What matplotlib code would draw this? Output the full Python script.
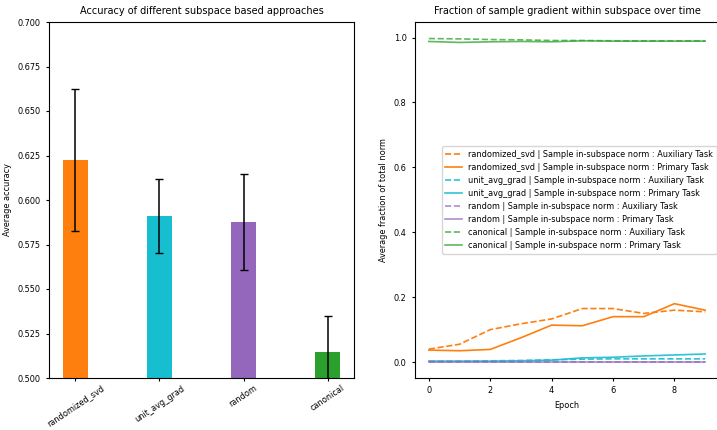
import matplotlib
matplotlib.use("Agg")
import matplotlib.pyplot as plt
import numpy as np

methods = ["randomized_svd", "unit_avg_grad", "random", "canonical"]
bar_colors = ["tab:orange", "tab:cyan", "tab:purple", "tab:green"]
acc_mean = [0.6225, 0.591, 0.5875, 0.5145]
acc_err = [0.040, 0.021, 0.027, 0.0205]

epochs = list(range(10))
rsvd_aux = [0.040, 0.055, 0.100, 0.118, 0.133, 0.165, 0.165, 0.150, 0.160, 0.155]
rsvd_pri = [0.037, 0.035, 0.039, 0.075, 0.114, 0.112, 0.140, 0.140, 0.180, 0.160]
uag_aux = [0.003, 0.003, 0.004, 0.005, 0.007, 0.009, 0.010, 0.010, 0.010, 0.010]
uag_pri = [0.003, 0.003, 0.003, 0.004, 0.006, 0.013, 0.015, 0.019, 0.022, 0.025]
rand_aux = [0.001, 0.001, 0.001, 0.001, 0.001, 0.001, 0.001, 0.001, 0.001, 0.001]
rand_pri = [0.000, 0.000, 0.000, 0.000, 0.000, 0.000, 0.000, 0.000, 0.000, 0.000]
can_aux = [0.997, 0.996, 0.994, 0.993, 0.991, 0.991, 0.990, 0.990, 0.990, 0.990]
can_pri = [0.988, 0.985, 0.987, 0.988, 0.987, 0.990, 0.989, 0.989, 0.989, 0.989]

series = [
    ("randomized_svd", rsvd_aux, rsvd_pri, "tab:orange", 1.0),
    ("unit_avg_grad", uag_aux, uag_pri, "tab:cyan", 0.9),
    ("random", rand_aux, rand_pri, "tab:purple", 0.75),
    ("canonical", can_aux, can_pri, "tab:green", 0.75),
]

fs = 5.9
plt.rcParams['font.size'] = fs
fig = plt.figure(figsize=(7.17, 4.30), dpi=100)
ax1 = fig.add_axes([49/717, 1-378/430, (354-49)/717, (378-22)/430])
ax2 = fig.add_axes([415/717, 1-378/430, (719-415)/717, (378-22)/430])

x = np.arange(len(methods))
ax1.bar(x, acc_mean, width=0.3, color=bar_colors, yerr=acc_err, capsize=3,
        error_kw=dict(ecolor="black", elinewidth=1.1))
ax1.set_ylim(0.5, 0.7)
ax1.set_yticks(np.arange(0.5, 0.7001, 0.025))
ax1.set_yticklabels([f"{v:.3f}" for v in np.arange(0.5, 0.7001, 0.025)])
ax1.set_xticks(x)
ax1.set_xticklabels(methods, rotation=34)
ax1.set_ylabel("Average accuracy", fontsize=fs)
ax1.set_title("Accuracy of different subspace based approaches", fontsize=7)
ax1.tick_params(labelsize=fs, length=2.5)
ax1.tick_params(axis="x", pad=1.5)

for name, aux, pri, c, a in series:
    ax2.plot(epochs, aux, linestyle="--", color=c, alpha=a, lw=1.2,
             label=f"{name} | Sample in-subspace norm : Auxiliary Task")
    ax2.plot(epochs, pri, linestyle="-", color=c, alpha=a, lw=1.2,
             label=f"{name} | Sample in-subspace norm : Primary Task")
ax2.set_ylim(-0.049, 1.048)
ax2.set_xlim(-0.45, 9.45)
ax2.set_yticks([0.0, 0.2, 0.4, 0.6, 0.8, 1.0])
ax2.set_xticks([0, 2, 4, 6, 8])
ax2.set_xlabel("Epoch", fontsize=fs)
ax2.set_ylabel("Average fraction of total norm", fontsize=fs)
ax2.set_title("Fraction of sample gradient within subspace over time", fontsize=7)
ax2.tick_params(labelsize=fs, length=2.5)
ax2.legend(loc="center right", fontsize=fs, borderaxespad=0.3)

fig.savefig("out.png", dpi=100)
